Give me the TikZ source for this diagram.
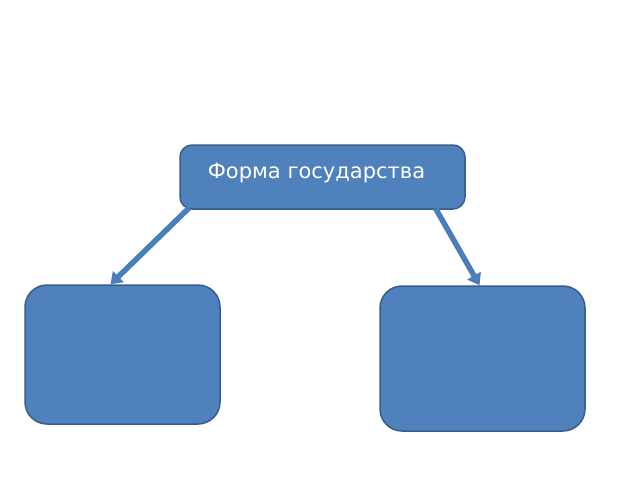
\documentclass[tikz,border=0pt]{standalone}
\usepackage{fontspec}
\newfontfamily\dejavu{DejaVu Sans}
\usetikzlibrary{arrows.meta,calc}
\definecolor{boxfill}{HTML}{4F81BD}
\definecolor{boxline}{HTML}{385D8A}
\definecolor{arrowblue}{HTML}{4A7EBB}

\begin{document}
\begin{tikzpicture}[x=1pt, y=-1pt, >={Triangle[length=11pt,width=15pt]},
  every node/.style={font=\dejavu\fontsize{21}{25}\selectfont},
  bluebox/.style={draw=boxline, fill=boxfill, line width=1.5pt, inner sep=0pt}]
  \useasboundingbox (0,0) rectangle (640,480);
  \node[bluebox, rounded corners=12pt, minimum width=285pt, minimum height=64pt] (gov) at (322.5,177) {};
  \node[text=white, anchor=center] (govtext) at ($(gov.center)+(-6,-4)$) {Форма государства};
  \node[bluebox, rounded corners=22pt, minimum width=195pt, minimum height=139pt] (left) at (122.5,354.5) {};
  \node[bluebox, rounded corners=22pt, minimum width=205pt, minimum height=145pt] (right) at (482.5,358.5) {};
  \draw[->, arrowblue, line width=5.5pt] ($(gov.south west)+(10,-2)$) -- ($(left.north)+(-12,0)$);
  \draw[->, arrowblue, line width=5.5pt] ($(gov.south east)+(-30,-1)$) -- ($(right.north)+(-3,0)$);
\end{tikzpicture}
\end{document}
